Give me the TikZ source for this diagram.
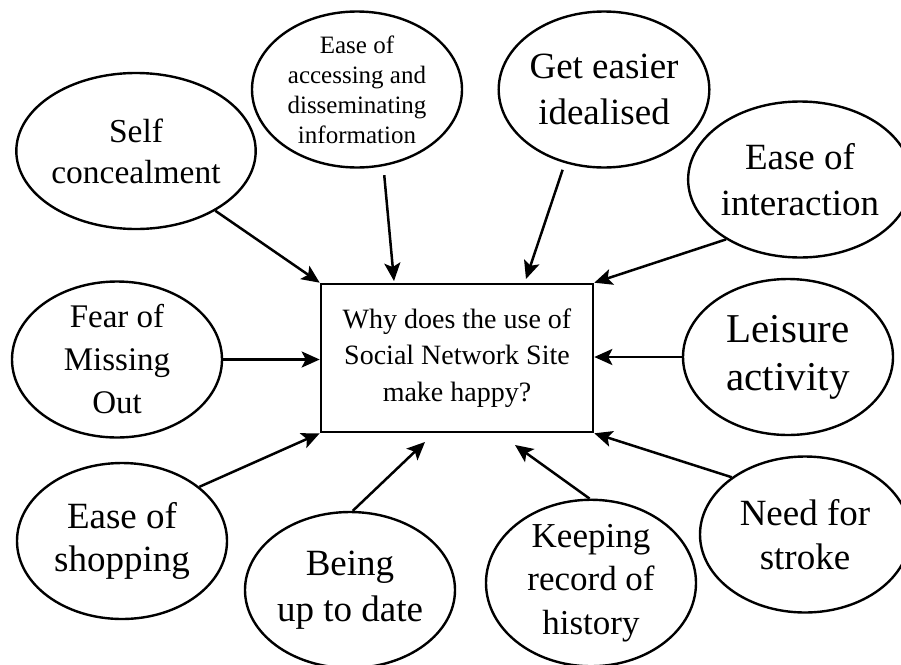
\documentclass[tikz,border=0pt]{standalone}
\usepackage{fontspec}
\setmainfont{Liberation Serif}
\usetikzlibrary{shapes.geometric,arrows.meta}
\begin{document}
\begin{tikzpicture}[x=1pt,y=-1pt,
  bubble/.style={ellipse,draw,line width=2.4pt,minimum width=210pt,minimum height=156pt,
    inner sep=0pt,align=center},
  question/.style={rectangle,draw,line width=2.6pt,minimum width=272pt,minimum height=148pt,
    inner sep=0pt,align=center,font=\fontsize{28}{36.5}\selectfont},
  link/.style={line width=2.5pt,-{Stealth[length=18pt,width=16pt,inset=4pt]}},
  fs/.style 2 args={font=\fontsize{#1}{#2}\selectfont}]
\useasboundingbox (0,0) rectangle (901,664);

% central question
\node[question] (box) at (457,358) {Why does the use of\\Social Network Site\\make happy?};

% surrounding factors
\node[bubble,fs={33.5}{41}] (self) at (136,151) {Self\\concealment};
\node[bubble,fs={25}{30}] (access) at (357,89.5) {Ease of\\accessing and\\disseminating\\information};
\node[bubble,fs={37}{46}] (ideal) at (604,89.5) {Get easier\\idealised};
\node[bubble,fs={37}{46}] (inter) at (800,179.5) {Ease of\\interaction};
\node[bubble,fs={33}{43}] (fomo) at (117,359.5) {Fear of\\Missing\\Out};
\node[bubble,fs={41}{48}] (leisure) at (788,357) {Leisure\\activity};
\node[bubble,fs={37}{43}] (shop) at (122,541) {Ease of\\shopping};
\node[bubble,fs={37}{46}] (being) at (350,590) {Being\\up to date};
\node[bubble,fs={35}{43.5}] (keep) at (591,583) {Keeping\\record of\\history};
\node[bubble,fs={37}{44}] (need) at (805,534.5) {Need for\\stroke};

% arrow tips that stop short of the box
\coordinate (accTip) at (394,281);
\coordinate (idealTip) at (526,279);
\coordinate (beingTip) at (425,442);
\coordinate (keepTip) at (515,445);

% connectors
\draw[link] (self.-37) -- (box.north west);
\draw[link,shorten <=9pt] (access.-71) -- (accTip);
\draw[link,shorten <=7pt] (ideal.-118) -- (idealTip);
\draw[link] (inter.-141.8) -- (box.north east);
\draw[link] (fomo.east) -- (box.west |- fomo.east);
\draw[link] (leisure.west) -- (box.east |- leisure.west);
\draw[link] (shop.35.7) -- (box.south west);
\draw[link] (being.88) -- (beingTip);
\draw[link] (keep.91) -- (keepTip);
\draw[link] (need.142.8) -- (box.south east);
\end{tikzpicture}
\end{document}
